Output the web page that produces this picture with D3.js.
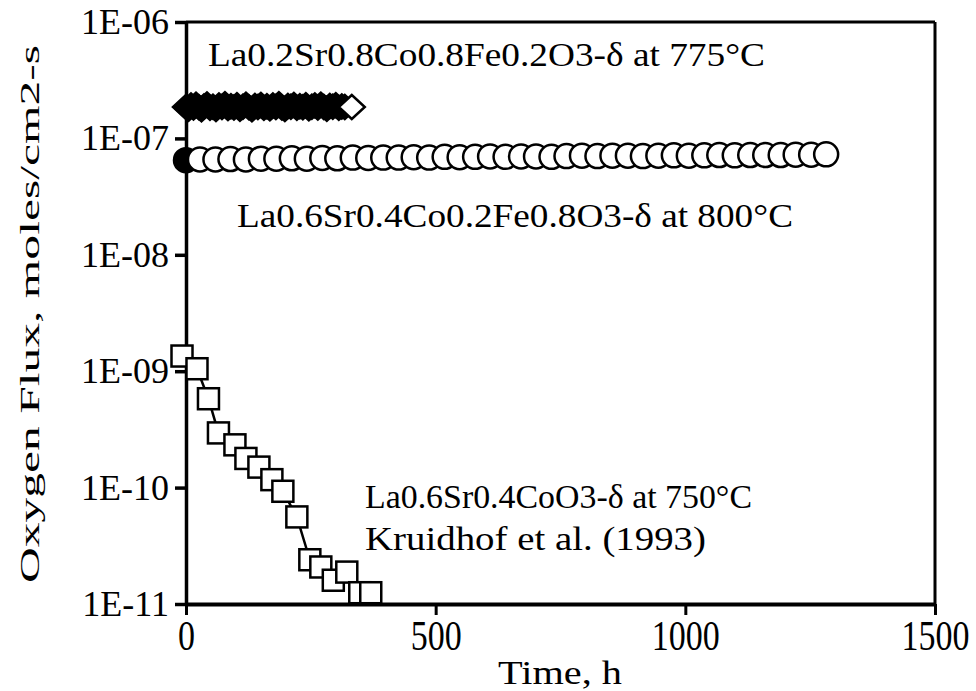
<!DOCTYPE html>
<html>
<head>
<meta charset="utf-8">
<script src="https://cdn.jsdelivr.net/npm/d3@7"></script>
<style>
  html, body { margin: 0; padding: 0; background: #fff; }
  svg { display: block; }
  text { font-family: "Liberation Serif", "Tinos", "Times New Roman", "DejaVu Serif", serif; fill: #000; }
</style>
</head>
<body>
<svg id="chart" width="976" height="691"></svg>
<script>
// ---------- data ----------
const xTicks = [0, 500, 1000, 1500];
const xTickLabels = ["0", "500", "1000", "1500"];
const yTicks = [1e-11, 1e-10, 1e-9, 1e-8, 1e-7, 1e-6];
const yTickLabels = ["1E-11", "1E-10", "1E-09", "1E-08", "1E-07", "1E-06"];

// La0.2Sr0.8Co0.8Fe0.2O3-δ at 775°C (filled diamonds, last one open)
const lscfDiamondT = [0,5,10,15,20,26,31,36,42,48,54,60,66,72,78,84,90,96,102,108,114,120,126,132,138,144,150,156,162,168,174,180,186,192,198,204,210,216,222,228,234,240,246,252,258,264,270,276,282,288,294,300,306,312,318];
const lscfDiamondV = [1.86e-7,1.80e-7,1.92e-7,1.84e-7,1.95e-7,1.85e-7,1.78e-7,1.88e-7,1.96e-7,1.83e-7,1.87e-7,1.79e-7,1.92e-7,1.86e-7,1.97e-7,1.82e-7,1.89e-7,1.84e-7,1.93e-7,1.80e-7,1.87e-7,1.95e-7,1.85e-7,1.78e-7,1.90e-7,1.86e-7,1.94e-7,1.83e-7,1.89e-7,1.81e-7,1.92e-7,1.86e-7,1.97e-7,1.84e-7,1.79e-7,1.90e-7,1.87e-7,1.94e-7,1.83e-7,1.89e-7,1.85e-7,1.93e-7,1.81e-7,1.87e-7,1.92e-7,1.84e-7,1.95e-7,1.86e-7,1.80e-7,1.90e-7,1.87e-7,1.93e-7,1.83e-7,1.88e-7,1.86e-7];
const lscfOpenT = [332];
const lscfOpenV = [1.86e-7];

// La0.6Sr0.4Co0.2Fe0.8O3-δ at 800°C (first filled circle, then open circles)
const lscf2FilledT = [0];
const lscf2FilledV = [6.5e-8];
const lscf2OpenT = [28,59,89,120,150,181,212,242,273,303,334,365,395,426,456,487,518,548,579,609,640,671,701,732,762,793,824,854,885,915,946,977,1007,1038,1068,1099,1130,1160,1191,1221,1252,1282];
const lscf2OpenV = [6.6e-8,6.6e-8,6.65e-8,6.6e-8,6.7e-8,6.7e-8,6.75e-8,6.7e-8,6.8e-8,6.75e-8,6.85e-8,6.8e-8,6.85e-8,6.85e-8,6.9e-8,6.85e-8,6.95e-8,6.9e-8,6.95e-8,7.0e-8,6.95e-8,7.0e-8,7.0e-8,6.95e-8,7.05e-8,7.1e-8,7.05e-8,7.1e-8,7.1e-8,7.05e-8,7.1e-8,7.15e-8,7.1e-8,7.15e-8,7.2e-8,7.15e-8,7.2e-8,7.2e-8,7.2e-8,7.25e-8,7.25e-8,7.3e-8];

// La0.6Sr0.4CoO3-δ at 750°C, Kruidhof et al. (1993) (open squares with line)
const lscT = [-8,22,45,65,98,120,146,172,194,222,248,270,295,322,348,370];
const lscV = [1.35e-9,1.05e-9,5.8e-10,2.95e-10,2.33e-10,1.78e-10,1.5e-10,1.17e-10,9.3e-11,5.6e-11,2.4e-11,2.08e-11,1.6e-11,1.88e-11,1.25e-11,1.25e-11];

const labelTexts = [
  "La0.2Sr0.8Co0.8Fe0.2O3-δ at 775°C",
  "La0.6Sr0.4Co0.2Fe0.8O3-δ at 800°C",
  "La0.6Sr0.4CoO3-δ at 750°C",
  "Kruidhof et al. (1993)"
];
const xTitle = "Time, h";
const yTitle = "Oxygen Flux, moles/cm2-s";

// ---------- layout ----------
const FONT = '"Liberation Serif", "Tinos", "Times New Roman", serif';
const svg = d3.select("#chart");
const L = 186, R = 935, T = 22, B = 604;
const x = d3.scaleLinear().domain([0, 1500]).range([L, R]);
const y = d3.scaleLog().domain([1e-11, 1e-6]).range([B, T]);

// frame (top & right)
svg.append("line").attr("x1", L).attr("x2", R).attr("y1", T).attr("y2", T)
  .attr("stroke", "#000").attr("stroke-width", 3);
svg.append("line").attr("x1", R).attr("x2", R).attr("y1", T).attr("y2", B)
  .attr("stroke", "#000").attr("stroke-width", 3);

// left axis
const yAxis = svg.append("g").attr("transform", `translate(${L},0)`)
  .call(d3.axisLeft(y).tickValues(yTicks)
    .tickFormat((d, i) => yTickLabels[i]).tickSize(11).tickSizeOuter(0).tickPadding(6));
yAxis.select(".domain").attr("stroke-width", 3.5);
yAxis.selectAll(".tick line").attr("stroke-width", 3.5);
yAxis.selectAll(".tick text").attr("font-size", 36).attr("font-family", FONT);

// bottom axis
const xAxis = svg.append("g").attr("transform", `translate(0,${B})`)
  .call(d3.axisBottom(x).tickValues(xTicks)
    .tickFormat((d, i) => xTickLabels[i]).tickSize(11).tickSizeOuter(0).tickPadding(6));
xAxis.select(".domain").attr("stroke-width", 4);
xAxis.selectAll(".tick line").attr("stroke-width", 3);
xAxis.selectAll(".tick text")
  .attr("font-size", 34)
  .attr("font-family", FONT)
  .attr("dy", null)
  .attr("y", 0)
  .attr("transform", "translate(0,46) scale(1,1.25)");

// squares series line
svg.append("path")
  .datum(lscT.map((t, i) => [t, lscV[i]]))
  .attr("fill", "none").attr("stroke", "#000").attr("stroke-width", 2.5)
  .attr("d", d3.line().x(d => x(d[0])).y(d => y(d[1])));

// squares
const sq = 21;
svg.append("g").selectAll("rect")
  .data(lscT.map((t, i) => [t, lscV[i]]))
  .join("rect")
  .attr("x", d => x(d[0]) - sq / 2).attr("y", d => y(d[1]) - sq / 2)
  .attr("width", sq).attr("height", sq)
  .attr("fill", "#fff").attr("stroke", "#000").attr("stroke-width", 2.5);

// circles
svg.append("g").selectAll("circle")
  .data(lscf2FilledT.map((t, i) => [t, lscf2FilledV[i]]))
  .join("circle")
  .attr("cx", d => x(d[0])).attr("cy", d => y(d[1])).attr("r", 12)
  .attr("fill", "#000").attr("stroke", "#000").attr("stroke-width", 2.5);
svg.append("g").selectAll("circle")
  .data(lscf2OpenT.map((t, i) => [t, lscf2OpenV[i]]))
  .join("circle")
  .attr("cx", d => x(d[0])).attr("cy", d => y(d[1])).attr("r", 12)
  .attr("fill", "#fff").attr("stroke", "#000").attr("stroke-width", 2.5);

// diamonds
const diamond = "M0,-12L13,0L0,12L-13,0Z";
svg.append("g").selectAll("path")
  .data(lscfDiamondT.map((t, i) => [t, lscfDiamondV[i]]))
  .join("path")
  .attr("d", diamond)
  .attr("transform", d => `translate(${x(d[0])},${y(d[1])})`)
  .attr("fill", "#000").attr("stroke", "#000").attr("stroke-width", 2.5);
svg.append("g").selectAll("path")
  .data(lscfOpenT.map((t, i) => [t, lscfOpenV[i]]))
  .join("path")
  .attr("d", diamond)
  .attr("transform", d => `translate(${x(d[0])},${y(d[1])})`)
  .attr("fill", "#fff").attr("stroke", "#000").attr("stroke-width", 2.5);

// annotations
const labelPos = [
  { x: 208, y: 66, w: 557 },
  { x: 237, y: 227, w: 556 },
  { x: 365, y: 508, w: 387 },
  { x: 365, y: 550, w: 341 }
];
svg.append("g").selectAll("text")
  .data(labelTexts)
  .join("text")
  .attr("x", (d, i) => labelPos[i].x)
  .attr("y", (d, i) => labelPos[i].y)
  .attr("font-size", 34)
  .attr("font-family", FONT)
  .attr("textLength", (d, i) => labelPos[i].w)
  .attr("lengthAdjust", "spacingAndGlyphs")
  .text(d => d);

// axis titles
svg.append("text")
  .attr("x", 560).attr("y", 684)
  .attr("text-anchor", "middle")
  .attr("font-size", 34)
  .attr("font-family", FONT)
  .attr("textLength", 124).attr("lengthAdjust", "spacingAndGlyphs")
  .text(xTitle);
svg.append("text")
  .attr("transform", "translate(39,314) rotate(-90)")
  .attr("text-anchor", "middle")
  .attr("font-size", 28)
  .attr("font-family", FONT)
  .attr("textLength", 538).attr("lengthAdjust", "spacingAndGlyphs")
  .text(yTitle);
</script>
</body>
</html>
